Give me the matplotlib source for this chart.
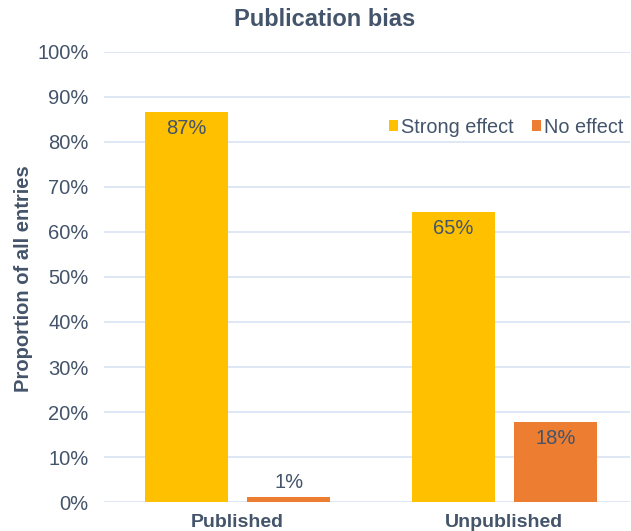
import numpy as np
import matplotlib.pyplot as plt
from matplotlib.ticker import PercentFormatter

plt.rcParams['font.family'] = ['Liberation Sans', 'DejaVu Sans']

# -----------------------------
# Data
groups = ['Published', 'Unpublished']
strong_effect = [86.7, 64.5]
no_effect = [1.2, 17.8]
strong_labels = ['87%', '65%']
no_labels = ['1%', '18%']

text_col = '#44546A'
yellow = '#FFC000'
orange = '#ED7D31'

fig = plt.figure(figsize=(6.31, 5.31), dpi=100)
ax = fig.add_axes([0.1648, 0.0546, 0.8336, 0.8475])

x = np.arange(len(groups))
w = 0.311
off = 0.191
b1 = ax.bar(x - off, strong_effect, w, color=yellow, label='Strong effect', zorder=3)
b2 = ax.bar(x + off, no_effect, w, color=orange, label='No effect', zorder=3)

# data labels: inside top for tall bars, above for short ones
for bars, labs in [(b1, strong_labels), (b2, no_labels)]:
    for r, lab in zip(bars, labs):
        h = r.get_height()
        cx = r.get_x() + r.get_width() / 2
        if h > 5:
            ax.text(cx, h - 3.7, lab, ha='center', va='center', fontsize=14.5, color=text_col, zorder=4)
        else:
            ax.text(cx, h + 3.1, lab, ha='center', va='center', fontsize=14.5, color=text_col, zorder=4)

ax.set_ylim(0, 100)
ax.set_xlim(-0.501, 1.471)
ax.set_yticks(np.arange(0, 101, 10))
ax.yaxis.set_major_formatter(PercentFormatter(decimals=0))
ax.set_xticks(x)
ax.set_xticklabels(groups, fontsize=14, fontweight='bold', color=text_col)
ax.tick_params(axis='y', labelsize=14.5, labelcolor=text_col, length=0, pad=11)
ax.tick_params(axis='x', length=0, pad=8.5)

ax.grid(axis='y', color='#D9E1F2', linewidth=1.2, zorder=0)
for s in ax.spines.values():
    s.set_visible(False)

fig.text(24 / 631, 0.4755, 'Proportion of all entries', rotation=90, ha='center', va='center',
         fontsize=14.5, fontweight='bold', color=text_col)
fig.text(324.5 / 631, 1 - 19 / 531, 'Publication bias', ha='center', va='center',
         fontsize=17, fontweight='bold', color=text_col)

leg = ax.legend(loc='center right', bbox_to_anchor=(0.987, 0.833), ncol=2, frameon=False,
                fontsize=14.3, handlelength=0.45, handleheight=0.45, handletextpad=0.15,
                columnspacing=0.9, borderaxespad=0, borderpad=0)
for t in leg.get_texts():
    t.set_color(text_col)

plt.savefig('out.png', dpi=100)
